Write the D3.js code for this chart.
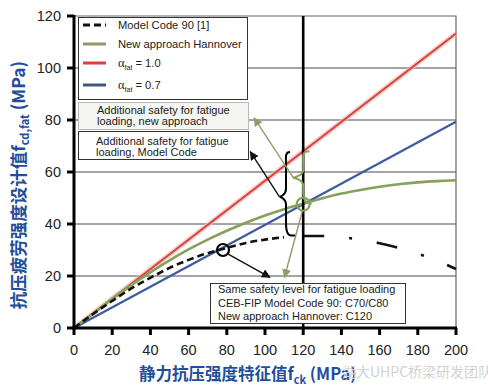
<!DOCTYPE html>
<html>
<head>
<meta charset="utf-8">
<script src="https://cdn.jsdelivr.net/npm/d3@7"></script>
<style>
  body { margin: 0; background: #fff; }
  svg { display: block; font-family: "Liberation Sans", Arial, sans-serif; }
</style>
</head>
<body>
<svg width="488" height="391"></svg>
<script>
// chart data
var fckSteps = [0, 10, 20, 30, 40, 50, 60, 70, 80, 90, 100, 110, 120, 130, 140, 150, 160, 170, 180, 190, 200];
var modelCode90 = [0, 5.4, 10.4, 15.2, 19.3, 23.1, 26.2, 28.8, 30.8, 32.7, 34, 34.9, 35.4, 35.4, 34.9, 34, 32.6, 30.8, 28.6, 25.9, 22.7];
var hannover = [0, 5.6, 11.2, 16.5, 21.4, 26, 30.2, 34, 37.4, 40.5, 43.3, 45.7, 47.8, 49.9, 51.7, 53.1, 54.3, 55.3, 56, 56.5, 56.8];
var fckEnds = [0, 200];
var alpha10 = [0, 113.3];
var alpha07 = [0, 79.3];
var xTicks = [0, 20, 40, 60, 80, 100, 120, 140, 160, 180, 200];
var yTicks = [0, 20, 40, 60, 80, 100, 120];
var gridValues = [20, 40, 60, 80, 100];

// marked points (data units)
var c7080 = [78, 30],
    c120 = [120, 47.6];

var svgWidth = 488,
    svgHeight = 391,
    plotL = 74, plotR = 456, plotT = 16, plotB = 328;

var colRed = "#d8413c",
    colGreen = "#87a05c",
    colBlue = "#3d5b9f",
    colArrowGreen = "#8d9d6b",
    colLabel = "#1f4e9b";

var svg = d3.select("svg")
    .attr("width", svgWidth)
    .attr("height", svgHeight);

var x = d3.scaleLinear().domain([0, 200]).range([plotL, plotR]);
var y = d3.scaleLinear().domain([0, 120]).range([plotB, plotT]);

var defs = svg.append("defs");
function arrowMarker(id, color) {
    defs.append("marker")
        .attr("id", id)
        .attr("viewBox", "0 0 10 10")
        .attr("refX", 9).attr("refY", 5)
        .attr("markerWidth", 9).attr("markerHeight", 9)
        .attr("markerUnits", "userSpaceOnUse")
        .attr("orient", "auto")
        .append("path")
        .attr("d", "M0,0 L10,5 L0,10 z")
        .attr("fill", color);
}
arrowMarker("arrBlack", "#111");
arrowMarker("arrGreen", colArrowGreen);

// grid
svg.selectAll("line.grid")
    .data(gridValues)
    .enter()
    .append("line")
    .attr("class", "grid")
    .attr("x1", plotL).attr("x2", plotR)
    .attr("y1", function (d) { return y(d); })
    .attr("y2", function (d) { return y(d); })
    .attr("stroke", "#4a4a4a")
    .attr("stroke-width", 1);

// frame top/right
svg.append("path")
    .attr("d", "M" + plotL + "," + y(120) + "H" + x(200) + "V" + y(0))
    .attr("fill", "none")
    .attr("stroke", "#666")
    .attr("stroke-width", 1.2);

var line = d3.line()
    .x(function (d) { return x(d[0]); })
    .y(function (d) { return y(d[1]); })
    .curve(d3.curveMonotoneX);

var mcPts = fckSteps.map(function (f, i) { return [f, modelCode90[i]]; });
var hnPts = fckSteps.map(function (f, i) { return [f, hannover[i]]; });
var redPts = fckEnds.map(function (f, i) { return [f, alpha10[i]]; });
var bluePts = fckEnds.map(function (f, i) { return [f, alpha07[i]]; });

// red line with soft glow
svg.append("path").attr("d", line(redPts))
    .attr("fill", "none").attr("stroke", "#f3b9b4").attr("stroke-width", 5).attr("opacity", 0.7);
svg.append("path").attr("d", line(redPts))
    .attr("fill", "none").attr("stroke", colRed).attr("stroke-width", 2);

svg.append("path").attr("d", line(bluePts))
    .attr("fill", "none").attr("stroke", colBlue).attr("stroke-width", 2.2);

svg.append("path").attr("d", line(hnPts))
    .attr("fill", "none").attr("stroke", colGreen).attr("stroke-width", 2.6);

// model code 90: dashed up to 120, dash-dot beyond
svg.append("path").attr("d", line(mcPts.filter(function (d) { return d[0] <= 118; })))
    .attr("fill", "none").attr("stroke", "#111").attr("stroke-width", 2.6)
    .attr("stroke-dasharray", "7,4");
svg.append("path").attr("d", line(mcPts.filter(function (d) { return d[0] >= 120; })))
    .attr("fill", "none").attr("stroke", "#111").attr("stroke-width", 2.6)
    .attr("stroke-dasharray", "21,25,3,25");

// vertical line at 120
svg.append("line")
    .attr("x1", x(120)).attr("x2", x(120))
    .attr("y1", y(120)).attr("y2", y(0))
    .attr("stroke", "#000").attr("stroke-width", 2.6);

// braces
var blackBrace = [[111, 67.7], [107.5, 50.5], [111, 35.6], [116, 35.6]];
var greenBrace = [[120, 68], [114.5, 57.8], [120, 47.8]];

function bracePath(tp, tip, bot) {
    var xb = x(tp[0]), yt = y(tp[1]), xt = x(tip[0]), ym = y(tip[1]), yb = y(bot[1]);
    var w = xb - xt;
    return "M" + (xb + w * 0.6) + "," + yt +
        "C" + (xb - w * 0.2) + "," + yt + " " + xb + "," + (yt + 6) + " " + xb + "," + (yt + 12) +
        "L" + xb + "," + (ym - 8) +
        "C" + xb + "," + (ym - 2) + " " + (xt + 1) + "," + ym + " " + xt + "," + ym +
        "C" + (xt + 1) + "," + ym + " " + xb + "," + (ym + 2) + " " + xb + "," + (ym + 8) +
        "L" + xb + "," + (yb - 12) +
        "C" + xb + "," + (yb - 4) + " " + (xb + w * 0.2) + "," + yb + " " + (xb + w * 0.8) + "," + yb;
}
svg.append("path")
    .attr("d", bracePath(blackBrace[0], blackBrace[1], blackBrace[2]) + "H" + x(blackBrace[3][0]))
    .attr("fill", "none").attr("stroke", "#000").attr("stroke-width", 2);
svg.append("path")
    .attr("d", bracePath(greenBrace[0], greenBrace[1], greenBrace[2]))
    .attr("fill", "none").attr("stroke", colGreen).attr("stroke-width", 2);

// circles
svg.append("circle")
    .attr("cx", x(c7080[0])).attr("cy", y(c7080[1])).attr("r", 6)
    .attr("fill", "none").attr("stroke", "#000").attr("stroke-width", 2.2);
svg.append("circle")
    .attr("cx", x(c120[0])).attr("cy", y(c120[1])).attr("r", 6.5)
    .attr("fill", "none").attr("stroke", colGreen).attr("stroke-width", 2.2);

// arrows
var arrows = [
    { from: [114.8, 57.8], to: [94.3, 80.8], color: colArrowGreen, m: "arrGreen" },
    { from: [107.5, 50.5], to: [92.3, 67.8], color: "#111", m: "arrBlack" },
    { from: [80.5, 28.5], to: [102.6, 19.5], color: "#111", m: "arrBlack" },
    { from: [119.5, 44.8], to: [110.2, 19.5], color: colArrowGreen, m: "arrGreen" }
];
svg.selectAll("line.arrow")
    .data(arrows)
    .enter()
    .append("line")
    .attr("class", "arrow")
    .attr("x1", function (d) { return x(d.from[0]); })
    .attr("y1", function (d) { return y(d.from[1]); })
    .attr("x2", function (d) { return x(d.to[0]); })
    .attr("y2", function (d) { return y(d.to[1]); })
    .attr("stroke", function (d) { return d.color; })
    .attr("stroke-width", 1.4)
    .attr("marker-end", function (d) { return "url(#" + d.m + ")"; });

// legend box
var lg = svg.append("g");
lg.append("rect").attr("x", 78.5).attr("y", 17.5).attr("width", 169).attr("height", 82)
    .attr("fill", "#fff").attr("stroke", "#333").attr("stroke-width", 1);
var legendItems = [
    { label: "Model Code 90 [1]", color: "#111", dash: "7,4", yy: 25 },
    { label: "New approach Hannover", color: "#8c9b6c", dash: null, yy: 44 },
    { label: "1.0", color: colRed, dash: null, yy: 63, alpha: true },
    { label: "0.7", color: "#46577f", dash: null, yy: 85, alpha: true }
];
legendItems.forEach(function (d) {
    lg.append("line")
        .attr("x1", 83).attr("x2", 106)
        .attr("y1", d.yy).attr("y2", d.yy)
        .attr("stroke", d.color).attr("stroke-width", 3)
        .attr("stroke-dasharray", d.dash);
    var t = lg.append("text").attr("x", 118).attr("y", d.yy + 4)
        .attr("font-size", 11.2).attr("fill", "#222");
    if (d.alpha) {
        t.append("tspan").attr("font-family", "Liberation Serif, serif").attr("font-size", 12.5).text("α");
        t.append("tspan").attr("font-size", 7).attr("dy", 3).text("fat");
        t.append("tspan").attr("dy", -3).text(" = " + d.label);
    } else {
        t.text(d.label);
    }
});

// annotation boxes
function noteBox(bx, by, bw, bh, fill, stroke, lines, tx, baselines) {
    svg.append("rect").attr("x", bx).attr("y", by).attr("width", bw).attr("height", bh)
        .attr("fill", fill).attr("stroke", stroke).attr("stroke-width", 1);
    svg.selectAll(null)
        .data(lines)
        .enter()
        .append("text")
        .attr("x", tx)
        .attr("y", function (d, i) { return baselines[i]; })
        .attr("font-size", 11)
        .attr("fill", "#1a1a1a")
        .text(function (d) { return d; });
}
noteBox(78.5, 102.5, 170, 27, "#f5f5f1", "#b9b9b4",
    ["Additional safety for fatigue", "loading, new approach"], 97, [114, 125]);
noteBox(78.5, 131.5, 170, 28, "#fff", "#333",
    ["Additional safety for fatigue", "loading, Model Code"], 96, [145, 156]);
noteBox(210.5, 283.5, 195, 40, "#fff", "#333",
    ["Same safety level for fatigue loading", "CEB-FIP Model Code 90: C70/C80", "New approach Hannover: C120"],
    218, [293, 307, 320]);

// axes
svg.append("line").attr("x1", plotL).attr("x2", plotL).attr("y1", y(120) - 1).attr("y2", y(0) + 1.5)
    .attr("stroke", "#000").attr("stroke-width", 3);
svg.append("line").attr("x1", plotL - 1.5).attr("x2", plotR + 1).attr("y1", y(0)).attr("y2", y(0))
    .attr("stroke", "#000").attr("stroke-width", 3);

svg.selectAll("line.ytick").data(yTicks).enter().append("line")
    .attr("x1", plotL - 7).attr("x2", plotL)
    .attr("y1", function (d) { return y(d); }).attr("y2", function (d) { return y(d); })
    .attr("stroke", "#000").attr("stroke-width", 3);
svg.selectAll("line.xtick").data(xTicks).enter().append("line")
    .attr("x1", function (d) { return x(d); }).attr("x2", function (d) { return x(d); })
    .attr("y1", y(0)).attr("y2", y(0) + 7)
    .attr("stroke", "#000").attr("stroke-width", 3);

svg.selectAll("text.ytl").data(yTicks).enter().append("text")
    .attr("x", 61).attr("y", function (d) { return y(d) + 5; })
    .attr("text-anchor", "end").attr("font-size", 14.5).attr("fill", "#222")
    .text(function (d) { return d; });
svg.selectAll("text.xtl").data(xTicks).enter().append("text")
    .attr("x", function (d) { return x(d); }).attr("y", 355)
    .attr("text-anchor", "middle").attr("font-size", 14.5).attr("fill", "#222")
    .text(function (d) { return d; });

// axis titles
var cjk = "'Noto Sans CJK SC', 'Noto Sans', sans-serif";
var xt = svg.append("text")
    .attr("x", 139).attr("y", 380)
    .attr("font-family", cjk).attr("font-weight", "bold").attr("font-size", 16.5)
    .attr("fill", colLabel);
xt.append("tspan").text("静力抗压强度特征值f");
xt.append("tspan").attr("font-size", 11).attr("dy", 4).text("ck");
xt.append("tspan").attr("dy", -4).text(" (MPa)");

var yt = svg.append("text")
    .attr("transform", "translate(25,185) rotate(-90)")
    .attr("text-anchor", "middle")
    .attr("font-family", cjk).attr("font-weight", "bold").attr("font-size", 17.5)
    .attr("fill", colLabel);
yt.append("tspan").text("抗压疲劳强度设计值f");
yt.append("tspan").attr("font-size", 11).attr("dy", 4).text("cd,fat");
yt.append("tspan").attr("dy", -4).text(" (MPa)");

// watermark
svg.append("text")
    .attr("x", 342).attr("y", 377)
    .attr("font-family", cjk).attr("font-size", 14)
    .attr("fill", "#d2d2d2")
    .text("湖大UHPC桥梁研发团队");
</script>
</body>
</html>
